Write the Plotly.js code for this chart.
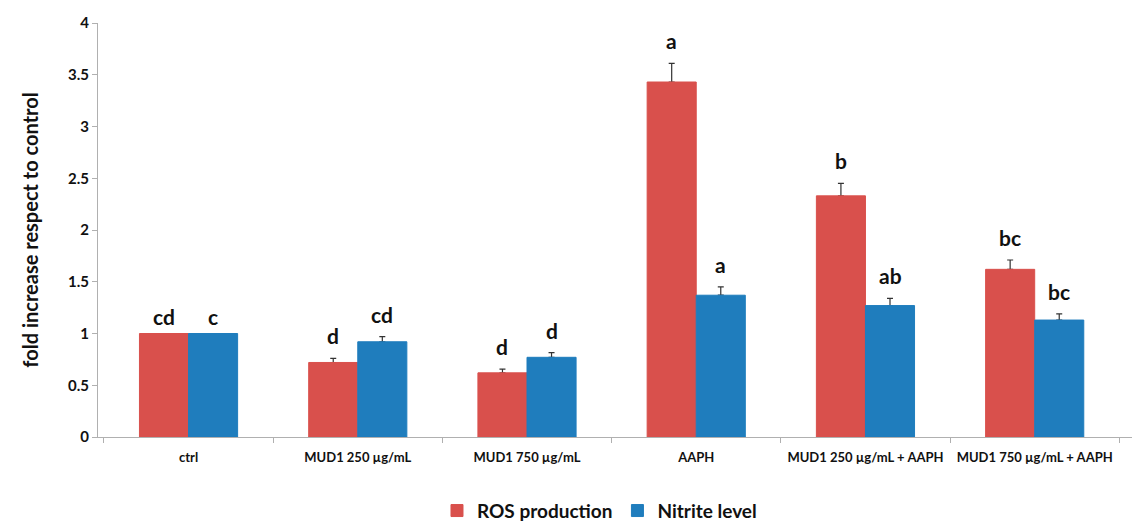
<!DOCTYPE html>
<html><head><meta charset="utf-8">
<script src="https://cdn.plot.ly/plotly-3.0.1.min.js"></script>
<style>html,body{margin:0;padding:0;background:#fff}#c{width:1132px;height:526px}</style>
</head><body><div id="c"></div>
<script>
const categories = ["ctrl","MUD1 250 µg/mL","MUD1 750 µg/mL","AAPH","MUD1 250 µg/mL + AAPH","MUD1 750 µg/mL + AAPH"];
const rosValues = [1.00, 0.72, 0.62, 3.43, 2.33, 1.62];
const rosErrors = [0, 0.04, 0.035, 0.18, 0.12, 0.09];
const rosLetters = ["cd","d","d","a","b","bc"];
const nitriteValues = [1.00, 0.92, 0.77, 1.37, 1.27, 1.13];
const nitriteErrors = [0, 0.05, 0.045, 0.08, 0.07, 0.06];
const nitriteLetters = ["c","cd","d","a","ab","bc"];

const FONT = "Lato, 'Open Sans', sans-serif";
const RED = "#d9504c", BLUE = "#1f7dbd";
const HALF = 0.145; // half of the group occupied by one bar (category units)

// transparent carriers drawn first: they hold the error bars
function errTrace(group, vals, errs){
  return {type:"bar", x:categories, y:vals, offsetgroup:group, showlegend:false,
    marker:{color:"rgba(0,0,0,0)"},
    error_y:{type:"data", array:errs.map(e=>e>0?e:NaN), symmetric:false, arrayminus:errs.map(()=>0),
      color:"#333", thickness:1.2, width:3, visible:true},
    hoverinfo:"skip"};
}
// visible bars drawn on top (hide the zero-length lower cap)
function barTrace(name, group, vals, color){
  return {type:"bar", name:name, x:categories, y:vals, offsetgroup:group,
    marker:{color:color, line:{color:color, width:1}}, hoverinfo:"y"};
}
const traces = [errTrace("ros", rosValues, rosErrors), errTrace("nit", nitriteValues, nitriteErrors),
                barTrace("ROS production", "ros", rosValues, RED),
                barTrace("Nitrite level", "nit", nitriteValues, BLUE)];

const annotations = [];
const letterFont = {family:FONT, size:21, color:"#111", weight:"bold"};
categories.forEach((c,i)=>{
  annotations.push({x:i-HALF, y:rosValues[i]+rosErrors[i], xref:"x", yref:"y", text:rosLetters[i],
    showarrow:false, yanchor:"bottom", yshift:rosErrors[i]>0?8:3, font:letterFont});
  annotations.push({x:i+HALF, y:nitriteValues[i]+nitriteErrors[i], xref:"x", yref:"y", text:nitriteLetters[i],
    showarrow:false, yanchor:"bottom", yshift:nitriteErrors[i]>0?8:3, font:letterFont});
});

const layout = {
  width:1132, height:526,
  margin:{l:98, r:0, t:23, b:89, autoexpand:false},
  paper_bgcolor:"#fff", plot_bgcolor:"#fff",
  barmode:"group", bargap:0.42, bargroupgap:0,
  showlegend:true,
  legend:{orientation:"h", x:0.485, xanchor:"center", y:-0.178, yanchor:"middle",
    font:{family:FONT, size:19, color:"#111", weight:"bold"}, traceorder:"normal"},
  xaxis:{type:"category", range:[-0.535, 5.575], showline:true, linecolor:"#b0b0b0", linewidth:1,
    ticks:"outside", tickson:"boundaries", ticklen:5, tickcolor:"#b0b0b0", ticklabelstandoff:8,
    tickfont:{family:FONT, size:13, color:"#111", weight:"bold"}, showgrid:false, zeroline:false, fixedrange:true},
  yaxis:{range:[0,4], dtick:0.5, showline:true, linecolor:"#b0b0b0", linewidth:1,
    ticks:"outside", ticklen:5, tickcolor:"#b0b0b0", showgrid:false, zeroline:false,
    tickfont:{family:FONT, size:15, color:"#111", weight:"bold"},
    title:{text:"fold increase respect to control", standoff:24, font:{family:FONT, size:20, color:"#111", weight:"bold"}}},
  annotations:annotations
};
Plotly.newPlot("c", traces, layout, {displayModeBar:false, staticPlot:true});
</script></body></html>
